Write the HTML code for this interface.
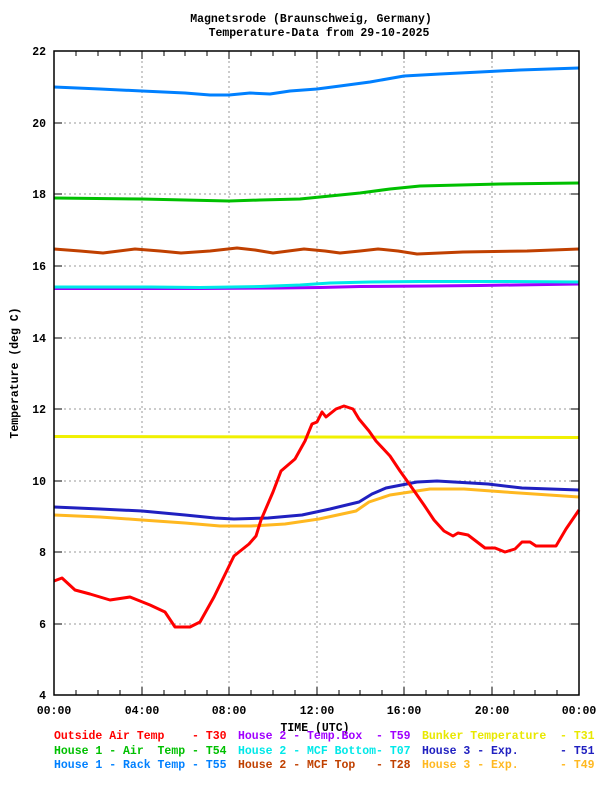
<!DOCTYPE html>
<html><head><meta charset="utf-8"><style>
html,body{margin:0;padding:0;background:#fff}
svg{display:block}
text{font-family:"Liberation Mono",monospace;font-weight:bold;font-size:11.5px;white-space:pre}
</style></head><body>
<svg width="600" height="800" viewBox="0 0 600 800" xmlns="http://www.w3.org/2000/svg">
<text x="311" y="22" text-anchor="middle">Magnetsrode (Braunschweig, Germany)</text>
<text x="319" y="36" text-anchor="middle">Temperature-Data from 29-10-2025</text>
<g stroke="#999" stroke-width="1" stroke-dasharray="2,3">
<line x1="142" y1="51" x2="142" y2="695"/><line x1="229" y1="51" x2="229" y2="695"/><line x1="317" y1="51" x2="317" y2="695"/><line x1="404" y1="51" x2="404" y2="695"/><line x1="492" y1="51" x2="492" y2="695"/>
<line x1="54" y1="123" x2="579" y2="123"/><line x1="54" y1="194" x2="579" y2="194"/><line x1="54" y1="266" x2="579" y2="266"/><line x1="54" y1="338" x2="579" y2="338"/><line x1="54" y1="409" x2="579" y2="409"/><line x1="54" y1="481" x2="579" y2="481"/><line x1="54" y1="552" x2="579" y2="552"/><line x1="54" y1="624" x2="579" y2="624"/>
</g>
<g stroke="#000" stroke-width="1">
<path d="M54,51 v5 M76,51 v5 M98,51 v5 M120,51 v5 M142,51 v8 M164,51 v5 M185,51 v5 M207,51 v5 M229,51 v8 M251,51 v5 M273,51 v5 M295,51 v5 M317,51 v8 M339,51 v5 M360,51 v5 M382,51 v5 M404,51 v8 M426,51 v5 M448,51 v5 M470,51 v5 M492,51 v8 M514,51 v5 M535,51 v5 M557,51 v5"/>
<path d="M76,695 v-5 M98,695 v-5 M120,695 v-5 M142,695 v-8 M164,695 v-5 M185,695 v-5 M207,695 v-5 M229,695 v-8 M251,695 v-5 M273,695 v-5 M295,695 v-5 M317,695 v-8 M339,695 v-5 M360,695 v-5 M382,695 v-5 M404,695 v-8 M426,695 v-5 M448,695 v-5 M470,695 v-5 M492,695 v-8 M514,695 v-5 M535,695 v-5 M557,695 v-5"/>
<path d="M54,123 h8 M54,194 h8 M54,266 h8 M54,338 h8 M54,409 h8 M54,481 h8 M54,552 h8 M54,624 h8 M579,123 h-8 M579,194 h-8 M579,266 h-8 M579,338 h-8 M579,409 h-8 M579,481 h-8 M579,552 h-8 M579,624 h-8"/>
</g>
<g fill="none" stroke-width="3" stroke-linejoin="round">
<polyline stroke="#0080ff" points="54,87 100,89 142,91 185,93 210,95 229,95 250,93 270,94 290,91 317,89 340,86 370,82 404,76 440,74 480,72 520,70 579,68"/>
<polyline stroke="#00c000" points="54,198 142,199 185,200 229,201 260,200 300,199 330,196 360,193 390,189 420,186 460,185 500,184 579,183"/>
<polyline stroke="#c04000" points="54,249 80,251 103,253 135,249 160,251 181,253 210,251 237,248 255,250 273,253 304,249 325,251 340,253 360,251 378,249 398,251 417,254 440,253 463,252 527,251 579,249"/>
<polyline stroke="#a000ff" points="54,288.5 200,288.5 280,288 320,287.5 360,286.5 430,286 480,285.5 579,284"/>
<polyline stroke="#00e8e8" points="54,287 100,287 150,287 200,287.5 260,286.5 300,285 330,283 370,282 420,281.5 500,281.5 579,282"/>
<polyline stroke="#f0f000" points="54,436.5 579,437.5"/>
<polyline stroke="#2020c0" points="54,507 100,509 142,511 185,515 215,518 234,519 268,518 302,515 330,509 359,502 372,494 386,488 417,482 437,481 488,484 522,488 579,490"/>
<polyline stroke="#ffb820" points="54,515 100,517 142,520 185,523 220,526 251,526 285,524 319,519 356,511 369,502 390,495 430,489 464,489 505,492 579,497"/>
<polyline stroke="#ff0000" points="54,581 62,578 75,590 90,594 110,600 130,597 150,605 165,612 175,627 190,627 200,622 214,597 234,556 249,544 256,536 261,520 273,492 281,471 295,459 305,441 312,424 317,422 322,412 326,417 336,409 344,406 353,409 359,419 369,431 376,441 390,456 400,471 410,485 424,505 434,520 444,531 453,536 458,533 468,535 485,548 495,548 505,552 515,549 522,542 530,542 536,546 556,546 566,529 579,510"/>
</g>
<rect x="54" y="51" width="525" height="644" fill="none" stroke="#000" stroke-width="1.5"/>
<g text-anchor="end">
<text x="46" y="55">22</text><text x="46" y="127">20</text><text x="46" y="198">18</text><text x="46" y="270">16</text><text x="46" y="342">14</text><text x="46" y="413">12</text><text x="46" y="485">10</text><text x="46" y="556">8</text><text x="46" y="628">6</text><text x="46" y="699">4</text>
</g>
<g text-anchor="middle">
<text x="54" y="714">00:00</text><text x="142" y="714">04:00</text><text x="229" y="714">08:00</text><text x="317" y="714">12:00</text><text x="404" y="714">16:00</text><text x="492" y="714">20:00</text><text x="579" y="714">00:00</text>
<text x="315" y="731">TIME (UTC)</text>
</g>
<text transform="translate(18,373) rotate(-90)" text-anchor="middle">Temperature (deg C)</text>
<g>
<text x="54" y="739" fill="#ff0000">Outside Air Temp    - T30</text>
<text x="238" y="739" fill="#a000ff">House 2 - Temp.Box  - T59</text>
<text x="422" y="739" fill="#e8e800">Bunker Temperature  - T31</text>
<text x="54" y="754" fill="#00c000">House 1 - Air  Temp - T54</text>
<text x="238" y="754" fill="#00e8e8">House 2 - MCF Bottom- T07</text>
<text x="422" y="754" fill="#2020c0">House 3 - Exp.      - T51</text>
<text x="54" y="768" fill="#0080ff">House 1 - Rack Temp - T55</text>
<text x="238" y="768" fill="#c04000">House 2 - MCF Top   - T28</text>
<text x="422" y="768" fill="#ffb820">House 3 - Exp.      - T49</text>
</g>
</svg>
</body></html>
